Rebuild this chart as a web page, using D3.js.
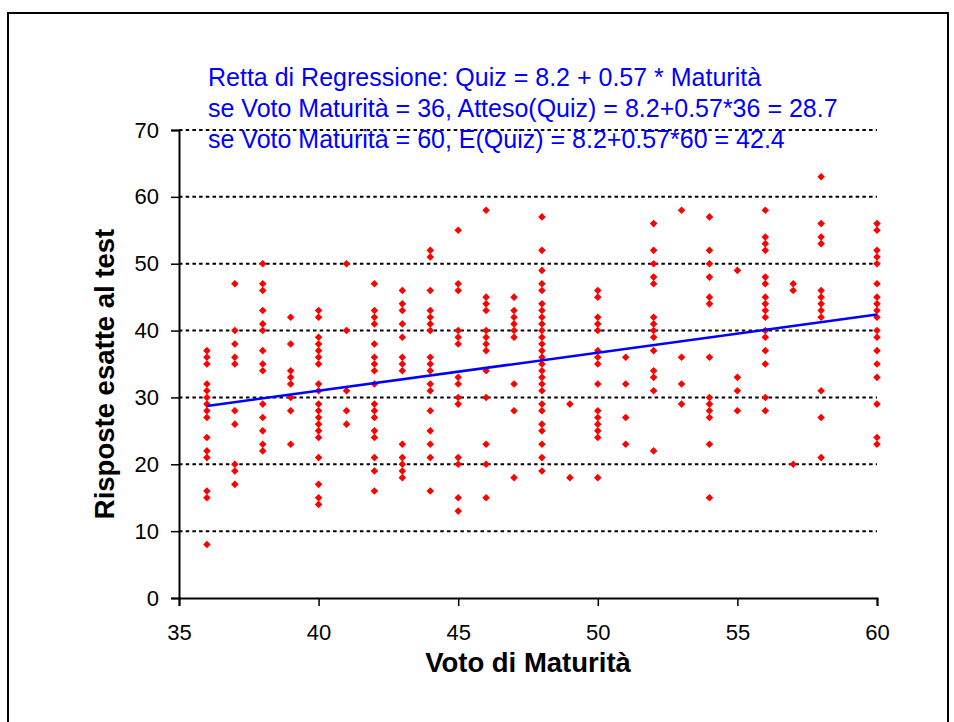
<!DOCTYPE html>
<html>
<head>
<meta charset="utf-8">
<style>
  body { margin: 0; background: #fff; }
  svg { display: block; font-family: Arial, "Liberation Sans", sans-serif; }
</style>
</head>
<body>
<svg width="954" height="722"></svg>

<script src="https://d3js.org/d3.v7.min.js"></script>

<script>

// Voto di Maturità (x) and the quiz scores seen in each column
var q36 = [37, 36, 35, 32, 31, 30, 29, 28, 27, 24, 22, 21, 16, 15, 8];
var q37 = [47, 40, 38, 36, 35, 28, 26, 20, 19, 17];
var q38 = [50, 47, 46, 43, 41, 40, 37, 35, 34, 29, 27, 25, 23, 22];
var q39 = [42, 38, 34, 33, 32, 30, 28, 23];
var q40 = [43, 42, 39, 38, 37, 36, 35, 32, 31, 29, 28, 27, 26, 25, 24, 21, 17, 15, 14];
var q41 = [50, 40, 31, 28, 26];
var q42 = [47, 43, 42, 41, 38, 36, 35, 34, 32, 29, 28, 27, 25, 24, 21, 19, 16];
var q43 = [46, 44, 43, 41, 39, 36, 35, 34, 23, 21, 20, 19, 18];
var q44 = [52, 51, 46, 43, 42, 41, 40, 36, 35, 34, 32, 31, 28, 25, 23, 21, 16];
var q45 = [55, 47, 46, 40, 39, 38, 33, 32, 30, 29, 21, 20, 15, 13];
var q46 = [58, 45, 44, 43, 40, 39, 38, 37, 34, 30, 23, 20, 15];
var q47 = [45, 43, 42, 41, 40, 39, 32, 28, 18];
var q48 = [57, 52, 49, 47, 46, 44, 43, 42, 41, 40, 39, 38, 37, 36, 35, 34, 33, 32, 31, 29, 28, 26, 25, 23, 21, 19];
var q49 = [29, 18];
var q50 = [46, 45, 42, 41, 40, 37, 36, 35, 32, 28, 27, 26, 25, 24, 18];
var q51 = [36, 32, 27, 23];
var q52 = [56, 52, 50, 48, 47, 42, 41, 40, 39, 37, 34, 33, 31, 22];
var q53 = [58, 36, 32, 29];
var q54 = [57, 52, 50, 48, 45, 44, 36, 30, 29, 28, 27, 23, 15];
var q55 = [49, 33, 31, 28];
var q56 = [58, 54, 53, 52, 48, 47, 45, 44, 43, 42, 40, 39, 37, 35, 30, 28];
var q57 = [47, 46, 20];
var q58 = [63, 56, 54, 53, 46, 45, 44, 43, 42, 31, 27, 21];
var q60 = [56, 55, 52, 51, 50, 47, 45, 44, 43, 42, 40, 39, 37, 35, 33, 29, 24, 23];

var voto = [36, 37, 38, 39, 40, 41, 42, 43, 44, 45, 46, 47, 48, 49, 50, 51, 52, 53, 54, 55, 56, 57, 58, 60];
var quiz = [q36, q37, q38, q39, q40, q41, q42, q43, q44, q45, q46, q47, q48, q49, q50, q51, q52, q53, q54, q55, q56, q57, q58, q60];

// regression: Quiz = 8.2 + 0.57 * Maturità
var intercept = 8.2, slope = 0.57;
var lineRange = [36, 60];

var xTicks = [35, 40, 45, 50, 55, 60];
var yTicks = [0, 10, 20, 30, 40, 50, 60, 70];

var notes = [
  "Retta di Regressione: Quiz = 8.2 + 0.57 * Maturità",
  "se Voto Maturità = 36, Atteso(Quiz) = 8.2+0.57*36 = 28.7",
  "se Voto Maturità = 60, E(Quiz) = 8.2+0.57*60 = 42.4"
];

var points = [];
voto.forEach(function(v, i) {
  quiz[i].forEach(function(q) { points.push({x: v, y: q}); });
});

var svg = d3.select("svg");

var plotLeft = 179, plotRight = 877, plotTop = 130, plotBottom = 598;

var x = d3.scaleLinear().domain([35, 60]).range([plotLeft, plotRight]);
var y = d3.scaleLinear().domain([0, 70]).range([plotBottom, plotTop]);

// outer frame
svg.append("path")
    .attr("d", "M8,722V13H948V722")
    .attr("fill", "none")
    .attr("stroke", "#000")
    .attr("stroke-width", 2);

// dotted gridlines
svg.append("g")
  .selectAll("line")
  .data(yTicks.filter(function(d) { return d > 0; }))
  .enter().append("line")
    .attr("x1", plotLeft)
    .attr("x2", plotRight)
    .attr("y1", function(d) { return y(d); })
    .attr("y2", function(d) { return y(d); })
    .attr("stroke", "#000")
    .attr("stroke-width", 2)
    .attr("stroke-dasharray", "3.5,3.2");

// axes
var xAxis = svg.append("g")
    .attr("transform", "translate(0," + plotBottom + ")")
    .call(d3.axisBottom(x).tickValues(xTicks).tickSize(8).tickPadding(18));

var yAxis = svg.append("g")
    .attr("transform", "translate(" + plotLeft + ",0)")
    .call(d3.axisLeft(y).tickValues(yTicks).tickSize(8).tickPadding(12));

[xAxis, yAxis].forEach(function(g) {
  g.select(".domain").attr("stroke", "#000").attr("stroke-width", 2);
  g.selectAll(".tick line").attr("stroke", "#000").attr("stroke-width", 1.5);
  g.selectAll(".tick text")
      .attr("fill", "#000")
      .style("font-family", "Arial, 'Liberation Sans', sans-serif")
      .style("font-size", "22px");
});

// red diamonds
svg.append("g")
  .selectAll("path")
  .data(points)
  .enter().append("path")
    .attr("transform", function(d) { return "translate(" + x(d.x) + "," + y(d.y) + ")"; })
    .attr("d", "M0,-3.8L3.8,0L0,3.8L-3.8,0Z")
    .attr("fill", "#ff0000");

// regression line
svg.append("line")
    .attr("x1", x(lineRange[0]))
    .attr("y1", y(intercept + slope * lineRange[0]))
    .attr("x2", x(lineRange[1]))
    .attr("y2", y(intercept + slope * lineRange[1]))
    .attr("stroke", "#0000ff")
    .attr("stroke-width", 2.5);

// annotation
svg.append("g")
  .selectAll("text")
  .data(notes)
  .enter().append("text")
    .attr("x", 208)
    .attr("y", function(d, i) { return 86 + i * 31; })
    .attr("fill", "#0000ff")
    .style("font-size", "25px")
    .text(function(d) { return d; });

// axis titles
svg.append("text")
    .attr("x", (plotLeft + plotRight) / 2)
    .attr("y", 672)
    .attr("text-anchor", "middle")
    .style("font-size", "27.5px")
    .style("font-weight", "bold")
    .text("Voto di Maturità");

svg.append("text")
    .attr("transform", "translate(114,374) rotate(-90)")
    .attr("text-anchor", "middle")
    .style("font-size", "27.5px")
    .style("font-weight", "bold")
    .text("Risposte esatte al test");

</script>
</body>
</html>
